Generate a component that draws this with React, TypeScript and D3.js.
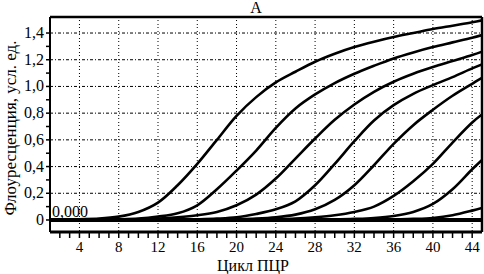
import React from "react";
import * as d3 from "d3";

const W = 484;
const H = 274;

const cycles = [1, 2, 4, 6, 8, 10, 12, 14, 16, 18, 20, 22, 24, 26, 28, 30, 32, 34, 36, 38, 40, 42, 44, 45];

const curve1 = [0.003, 0.004, 0.006, 0.01, 0.025, 0.06, 0.13, 0.26, 0.42, 0.6, 0.78, 0.92, 1.03, 1.11, 1.185, 1.245, 1.295, 1.335, 1.37, 1.4, 1.43, 1.455, 1.48, 1.495];
const curve2 = [0.002, 0.002, 0.002, 0.003, 0.005, 0.01, 0.025, 0.05, 0.11, 0.23, 0.37, 0.52, 0.69, 0.835, 0.94, 1.025, 1.095, 1.155, 1.21, 1.255, 1.295, 1.33, 1.365, 1.385];
const curve3 = [0.002, 0.002, 0.002, 0.002, 0.003, 0.005, 0.01, 0.02, 0.035, 0.06, 0.11, 0.19, 0.31, 0.46, 0.61, 0.75, 0.865, 0.96, 1.035, 1.095, 1.145, 1.19, 1.235, 1.26];
const curve4 = [0.002, 0.002, 0.002, 0.002, 0.002, 0.002, 0.002, 0.002, 0.005, 0.01, 0.02, 0.045, 0.08, 0.14, 0.26, 0.42, 0.59, 0.745, 0.86, 0.945, 1.01, 1.07, 1.135, 1.165];
const curve5 = [0.002, 0.002, 0.002, 0.002, 0.002, 0.002, 0.002, 0.002, 0.002, 0.002, 0.005, 0.01, 0.02, 0.04, 0.08, 0.15, 0.26, 0.41, 0.57, 0.71, 0.825, 0.93, 1.02, 1.065];
const curve6 = [0.002, 0.002, 0.002, 0.002, 0.002, 0.002, 0.002, 0.002, 0.002, 0.002, 0.002, 0.002, 0.005, 0.01, 0.02, 0.035, 0.06, 0.1, 0.18, 0.29, 0.42, 0.58, 0.73, 0.79];
const curve7 = [0.002, 0.002, 0.002, 0.002, 0.002, 0.002, 0.002, 0.002, 0.002, 0.002, 0.002, 0.002, 0.002, 0.002, 0.002, 0.004, 0.008, 0.015, 0.03, 0.06, 0.12, 0.23, 0.38, 0.45];
const curve8 = [0.002, 0.002, 0.002, 0.002, 0.002, 0.002, 0.002, 0.002, 0.002, 0.002, 0.002, 0.002, 0.002, 0.002, 0.002, 0.002, 0.002, 0.002, 0.005, 0.008, 0.015, 0.035, 0.07, 0.09];
const baseline = [0, 0, 0, 0, 0, 0, 0, 0, 0, 0, 0, 0, 0, 0, 0, 0, 0, 0, 0, 0, 0, 0, 0, 0];

const series = [curve1, curve2, curve3, curve4, curve5, curve6, curve7, curve8];

const xLabelTicks = [4, 8, 12, 16, 20, 24, 28, 32, 36, 40, 44];
const xMinorTicks = d3.range(2, 45);
const yLabelTicks = [0, 0.2, 0.4, 0.6, 0.8, 1.0, 1.2, 1.4];
const yMinorTicks = d3.range(0, 15).map((i) => i / 10);
const yGridTicks = [0.2, 0.4, 0.6, 0.8, 1.0, 1.2, 1.4];

const title = "A";
const xTitle = "Цикл ПЦР";
const yTitle = "Флоуресценция, усл. ед.";
const zeroText = "0,000";

const left = 50, right = 482, top = 17, bottom = 232;

export default function App() {
  const x = d3.scaleLinear().domain([1, 45]).range([left, right]);
  const y = d3.scaleLinear().domain([-0.09, 1.52]).range([bottom, top]);
  const line = d3
    .line<number>()
    .x((_, i) => x(cycles[i]))
    .y((d) => y(d))
    .curve(d3.curveCatmullRom.alpha(0.5));
  const fmt = (v: number) => (v === 0 ? "0" : v.toFixed(1).replace(".", ","));
  const ts: React.CSSProperties = { fontFamily: "Liberation Serif" };

  return (
    <svg width={W} height={H} style={{ position: "absolute", left: 0, top: 0, background: "#fff" }}>
      <rect x={0} y={0} width={W} height={H} fill="#fff" />
      <defs>
        <clipPath id="plot">
          <rect x={left} y={top} width={right - left} height={bottom - top} />
        </clipPath>
      </defs>
      {xLabelTicks.map((t) => (
        <line key={"gx" + t} x1={x(t)} x2={x(t)} y1={top} y2={bottom} stroke="#000" strokeWidth={1} strokeDasharray="1,2,1,3" />
      ))}
      {yGridTicks.map((t) => (
        <line key={"gy" + t} x1={left} x2={right} y1={y(t)} y2={y(t)} stroke="#000" strokeWidth={1} strokeDasharray="3,2,1,2" />
      ))}
      <g clipPath="url(#plot)">
        <path d={line(baseline) || ""} fill="none" stroke="#000" strokeWidth={4} />
        {series.map((s, i) => (
          <path key={i} d={line(s) || ""} fill="none" stroke="#000" strokeWidth={2.6} strokeLinejoin="round" />
        ))}
      </g>
      <line x1={left} x2={right} y1={top} y2={top} stroke="#000" strokeWidth={2.5} />
      <line x1={left} x2={left} y1={top} y2={bottom} stroke="#000" strokeWidth={2} />
      <line x1={right} x2={right} y1={top} y2={bottom} stroke="#000" strokeWidth={2.5} />
      <line x1={left} x2={right} y1={bottom} y2={bottom} stroke="#000" strokeWidth={3} />
      {xMinorTicks.map((t) => (
        <line key={"tx" + t} x1={x(t)} x2={x(t)} y1={bottom} y2={bottom + 6} stroke="#000" strokeWidth={1.5} />
      ))}
      {xLabelTicks.map((t) => (
        <text key={"lx" + t} x={x(t)} y={252} textAnchor="middle" fontSize={15} style={ts}>
          {t}
        </text>
      ))}
      {yMinorTicks.map((t) => (
        <line key={"ty" + t} x1={left - 4} x2={left} y1={y(t)} y2={y(t)} stroke="#000" strokeWidth={1.5} />
      ))}
      {yLabelTicks.map((t) => (
        <text key={"ly" + t} x={44} y={y(t) + 5} textAnchor="end" fontSize={16} style={ts}>
          {fmt(t)}
        </text>
      ))}
      <text x={52} y={216.5} fontSize={16} style={ts}>
        {zeroText}
      </text>
      <text x={256} y={12.5} textAnchor="middle" fontSize={16} style={ts}>
        {title}
      </text>
      <text x={253} y={270.5} textAnchor="middle" fontSize={16} style={ts}>
        {xTitle}
      </text>
      <text transform={`translate(16,128) rotate(-90)`} textAnchor="middle" fontSize={17} style={ts}>
        {yTitle}
      </text>
    </svg>
  );
}
